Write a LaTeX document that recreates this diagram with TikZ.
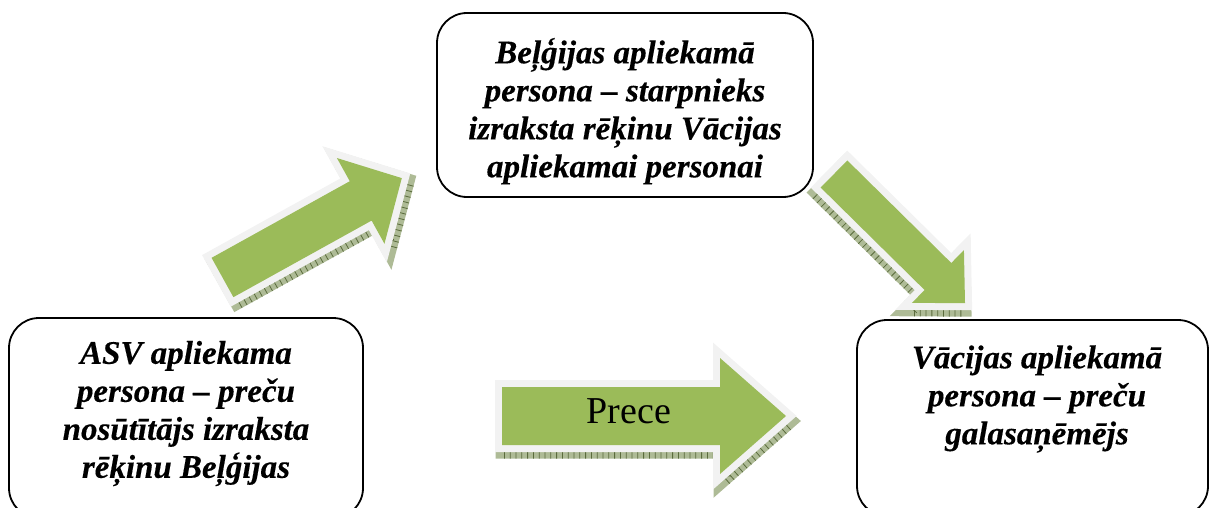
\documentclass[tikz,border=0pt]{standalone}
\usepackage{fontspec}
\setmainfont{Liberation Serif}
\newfontfamily\partyfont[FakeBold=0.3]{Liberation Serif}
\definecolor{arrowgreen}{HTML}{9BBB59}
\definecolor{arrowrim}{HTML}{F2F2F2}
\definecolor{shadebase}{HTML}{AEBB96}
\definecolor{shadetick}{HTML}{5A6B3C}
% block arrow: name, tail x, tail y, angle, length, shaft half width, head start, head half width
\newcommand\blockarrow[8]{%
  \begin{scope}[shift={(#2,#3)}, rotate=#4]
    \coordinate (#1) at (0,0);
    \begin{scope}[shift={(2,5)}]
      \draw[line width=17pt, shadebase, fill=shadebase, line join=miter]
        (0,#6) -- (#7,#6) -- (#7,#8) -- (#5,0) -- (#7,-#8) -- (#7,-#6) -- (0,-#6) -- cycle;
      \draw[line width=17pt, shadetick, dash pattern=on 0.8pt off 5pt, line join=miter]
        (0,#6) -- (#7,#6) -- (#7,#8) -- (#5,0) -- (#7,-#8) -- (#7,-#6) -- (0,-#6) -- cycle;
    \end{scope}
    \draw[line width=14pt, arrowrim, line join=miter]
      (0,#6) -- (#7,#6) -- (#7,#8) -- (#5,0) -- (#7,-#8) -- (#7,-#6) -- (0,-#6) -- cycle;
    \fill[arrowgreen]
      (0,#6) -- (#7,#6) -- (#7,#8) -- (#5,0) -- (#7,-#8) -- (#7,-#6) -- (0,-#6) -- cycle;
  \end{scope}}
\begin{document}
\begin{tikzpicture}[x=1pt, y=-1pt,
  box/.style={draw=black, line width=1.8pt, fill=white, rounded corners=30pt, inner sep=0pt},
  boxtext/.style={font=\partyfont\bfseries\itshape\fontsize{33}{38}\selectfont, align=center, inner sep=0pt, anchor=north},
  arrowtext/.style={font=\fontsize{38}{44}\selectfont, inner sep=0pt, anchor=base}]
  \useasboundingbox (0,0) rectangle (1209,508);
  \clip (0,0) rectangle (1209,508);

  % block arrows
  \blockarrow{toBE}{222.5}{277.5}{29}{205}{22.5}{158}{49}
  \blockarrow{goods}{502}{416}{0}{284}{29}{218}{58}
  \blockarrow{toDE}{834}{174}{-44.6}{184}{19}{146}{37}
  \node[arrowtext] (prece) at (629,423) {Prece};

  % parties
  \node[box, minimum width=376pt, minimum height=184pt] (be) at (625,105) {};
  \node[box, minimum width=354pt, minimum height=200pt] (us) at (186,418) {};
  \node[box, minimum width=351pt, minimum height=196pt] (de) at (1032.5,418) {};

  \node[boxtext] (betext) at (625,36.5)
    {\strut Beļģijas apliekamā\\ persona – starpnieks\\ izraksta rēķinu Vācijas\\ apliekamai personai};
  \node[boxtext] (ustext) at (186,337)
    {\strut ASV apliekama\\ persona – preču\\ nosūtītājs izraksta\\ rēķinu Beļģijas};
  \node[boxtext] (detext) at (1037,341.5)
    {\strut Vācijas apliekamā\\ persona – preču\\ galasaņēmējs};
\end{tikzpicture}
\end{document}
